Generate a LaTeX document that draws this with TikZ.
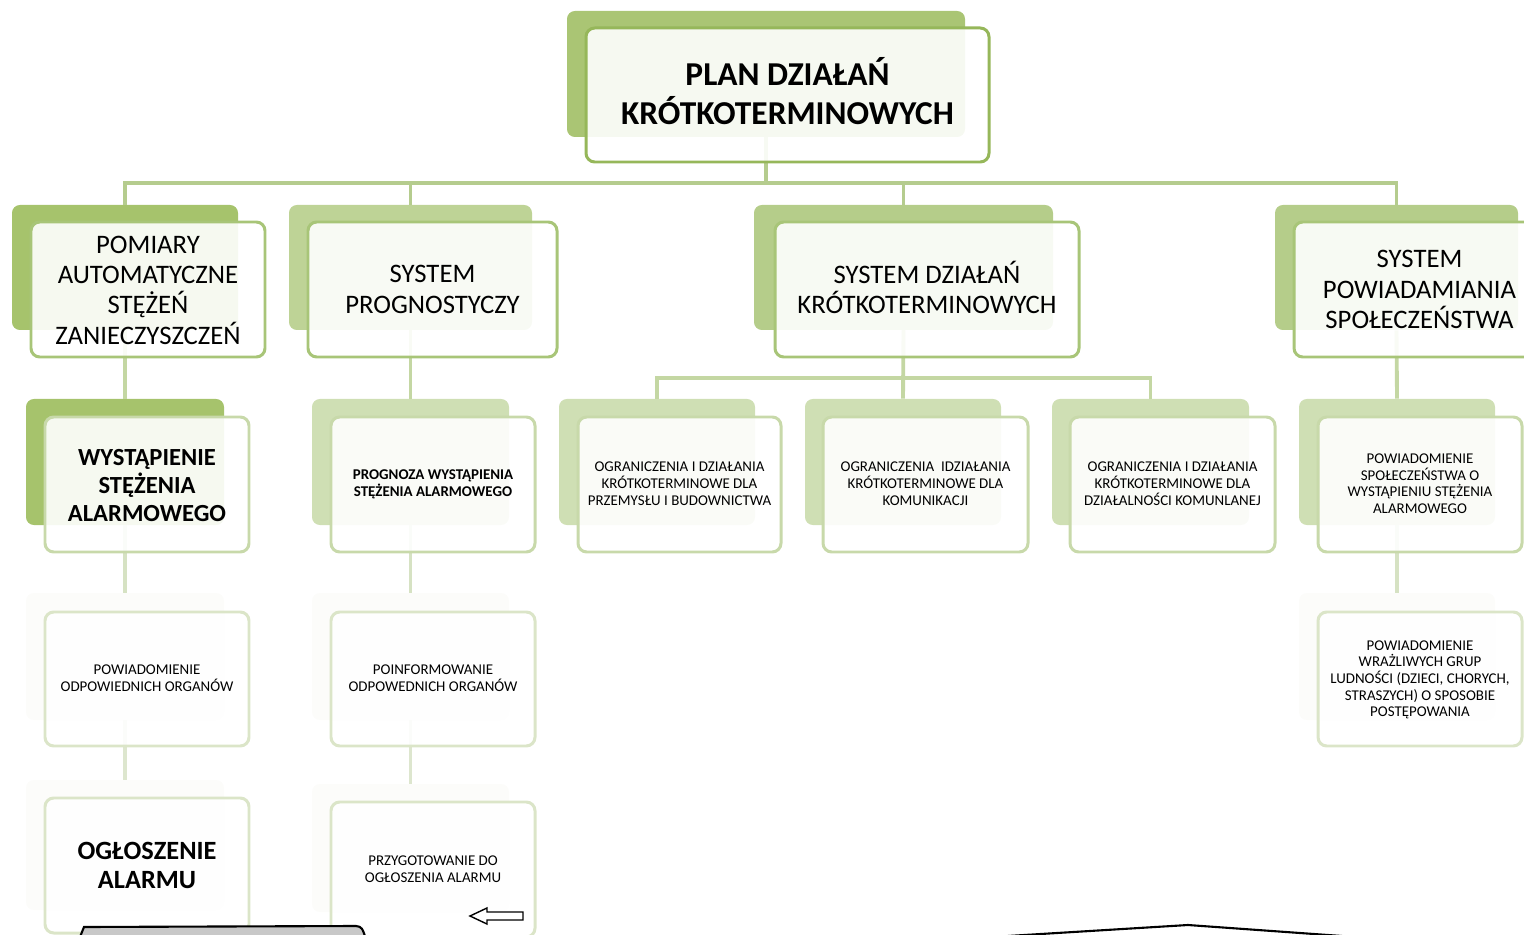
\documentclass[tikz,border=0pt]{standalone}
\usepackage{fontspec}
\setmainfont{Carlito}
\usetikzlibrary{fit}
\definecolor{topback}{RGB}{170,197,116}
\definecolor{topborder}{RGB}{150,183,90}
\definecolor{backA}{RGB}{166,195,108}
\definecolor{backB}{RGB}{190,211,150}
\definecolor{backC}{RGB}{181,205,138}
\definecolor{borderII}{RGB}{168,197,120}
\definecolor{backIII}{RGB}{207,223,180}
\definecolor{borderIII}{RGB}{200,217,170}
\definecolor{backIV}{RGB}{252,252,250}
\definecolor{borderIV}{RGB}{219,229,200}
\definecolor{connI}{RGB}{181,204,142}
\definecolor{connII}{RGB}{196,215,163}
\definecolor{connIII}{RGB}{214,226,195}
\definecolor{connIV}{RGB}{221,230,206}
\definecolor{shapegray}{RGB}{200,200,200}
\newcommand\boxtext[4]{\node[#2, align=center, inner sep=0pt, yshift=#3] (#1t) at (#1.center) {#4};}
\begin{document}
\begin{tikzpicture}[x=0.02cm,y=-0.02cm,
  backbox/.style={rounded corners=4.5pt, inner sep=0pt, draw=none},
  frontbox/.style={rounded corners=5pt, fill=white, fill opacity=0.9,
     line width=1.7pt, inner sep=0pt},
  conn/.style={line width=2.2pt},
  ftop/.style={font=\fontsize{19}{22}\selectfont\bfseries},
  fII/.style={font=\fontsize{15.2}{17.2}\selectfont},
  fIIIb/.style={font=\fontsize{14}{15.9}\selectfont\bfseries},
  fsmall/.style={font=\fontsize{8.5}{9.5}\selectfont},
  fsmallb/.style={font=\fontsize{8.5}{9.5}\selectfont\bfseries},
  fVb/.style={font=\fontsize{15}{17}\selectfont\bfseries}]
\useasboundingbox (0,0) rectangle (1524,935);
\clip (0,0) rectangle (1524,935);

% ---------- back rectangles ----------
\node[backbox, fill=topback, fit={(567,11) (965,137)}] (topb) {};
\node[backbox, fill=backA, fit={(12,205) (238,330)}] (a2b) {};
\node[backbox, fill=backB, fit={(289,205) (532,330)}] (b2b) {};
\node[backbox, fill=backC, fit={(754,205) (1053,330)}] (c2b) {};
\node[backbox, fill=backC, fit={(1275,205) (1518,330)}] (d2b) {};

\node[backbox, fill=backA, fit={(26,399) (224,525)}] (a3b) {};
\node[backbox, fill=backIII, fit={(312,399) (509,525)}] (b3b) {};
\node[backbox, fill=backIII, fit={(559,399) (755,525)}] (c3ab) {};
\node[backbox, fill=backIII, fit={(805,399) (1001,525)}] (c3bb) {};
\node[backbox, fill=backIII, fit={(1052,399) (1249,525)}] (c3cb) {};
\node[backbox, fill=backIII, fit={(1299,399) (1495,525)}] (d3b) {};

\node[backbox, fill=backIV, fit={(26,593) (224,720)}] (a4b) {};
\node[backbox, fill=backIV, fit={(312,593) (509,720)}] (b4b) {};
\node[backbox, fill=backIV, fit={(1299,593) (1495,720)}] (d4b) {};

\node[backbox, fill=backIV, fit={(26,780) (224,910)}] (a5b) {};
\node[backbox, fill=backIV, fit={(312,784) (509,912)}] (b5b) {};

% ---------- connectors ----------
\draw[conn, connI] (topb.south) -- (topb.south |- 0,183) -| (a2b.north);
\draw[conn, connI] (topb.south) -- (topb.south |- 0,183) -| (b2b.north);
\draw[conn, connI] (topb.south) -- (topb.south |- 0,183) -| (c2b.north);
\draw[conn, connI] (topb.south) -- (topb.south |- 0,183) -| (d2b.north);

\draw[conn, connII] (a2b.south) -- (a3b.north);
\draw[conn, connII] (b2b.south) -- (b3b.north);
\draw[conn, connII] (c2b.south) -- (c2b.south |- 0,378) -| (c3ab.north);
\draw[conn, connII] (c2b.south) -- (c3bb.north);
\draw[conn, connII] (c2b.south) -- (c2b.south |- 0,378) -| (c3cb.north);
\draw[conn, connII] (d2b.south) -- (d3b.north);

\draw[conn, connIII] (a3b.south) -- (a4b.north);
\draw[conn, connIII] (b3b.south) -- (b4b.north);
\draw[conn, connIII] (d3b.south) -- (d4b.north);

\draw[conn, connIV] (a4b.south) -- (a5b.north);
\draw[conn, connIV] (b4b.south) -- (b5b.north);

% ---------- front boxes ----------
\node[frontbox, draw=topborder, fit={(586,28) (989,162)}] (top) {};

\node[frontbox, draw=borderII, fit={(31,222) (265,357)}] (a2) {};
\node[frontbox, draw=borderII, fit={(308,222) (557,357)}] (b2) {};
\node[frontbox, draw=borderII, fit={(775,222) (1079,357)}] (c2) {};
\node[frontbox, draw=borderII, fit={(1294,222) (1545,357)}] (d2) {};

\node[frontbox, draw=borderIII, fit={(45,417) (249,552)}] (a3) {};
\node[frontbox, draw=borderIII, fit={(331,417) (535,552)}] (b3) {};
\node[frontbox, draw=borderIII, fit={(578,417) (781,552)}] (c3a) {};
\node[frontbox, draw=borderIII, fit={(823,417) (1028,552)}] (c3b) {};
\node[frontbox, draw=borderIII, fit={(1070,417) (1275,552)}] (c3c) {};
\node[frontbox, draw=borderIII, fit={(1318,417) (1522,552)}] (d3) {};

\node[frontbox, draw=borderIV, fit={(45,612) (249,746)}] (a4) {};
\node[frontbox, draw=borderIV, fit={(331,612) (535,746)}] (b4) {};
\node[frontbox, draw=borderIV, fit={(1318,612) (1522,746)}] (d4) {};

\node[frontbox, draw=borderIV, fit={(45,798) (249,933)}] (a5) {};
\node[frontbox, draw=borderIV, fit={(331,802) (535,937)}] (b5) {};

% ---------- texts ----------
\boxtext{top}{ftop}{2.3pt}{PLAN DZIAŁAŃ\\KRÓTKOTERMINOWYCH}
\boxtext{a2}{fII}{-0.4pt}{POMIARY\\AUTOMATYCZNE\\STĘŻEŃ\\ZANIECZYSZCZEŃ}
\boxtext{b2}{fII}{0pt}{SYSTEM\\PROGNOSTYCZY}
\boxtext{c2}{fII}{1pt}{SYSTEM DZIAŁAŃ\\KRÓTKOTERMINOWYCH}
\boxtext{d2}{fII}{0pt}{SYSTEM\\POWIADAMIANIA\\SPOŁECZEŃSTWA}
\boxtext{a3}{fIIIb}{-0.4pt}{WYSTĄPIENIE\\STĘŻENIA\\ALARMOWEGO}
\boxtext{b3}{fsmallb}{0pt}{PROGNOZA WYSTĄPIENIA\\STĘŻENIA ALARMOWEGO}
\boxtext{c3a}{fsmall}{0.5pt}{OGRANICZENIA I DZIAŁANIA\\KRÓTKOTERMINOWE DLA\\PRZEMYSŁU I BUDOWNICTWA}
\boxtext{c3b}{fsmall}{0.5pt}{OGRANICZENIA\ \ IDZIAŁANIA\\KRÓTKOTERMINOWE DLA\\KOMUNIKACJI}
\boxtext{c3c}{fsmall}{0.5pt}{OGRANICZENIA I DZIAŁANIA\\KRÓTKOTERMINOWE DLA\\DZIAŁALNOŚCI KOMUNLANEJ}
\boxtext{d3}{fsmall}{0.5pt}{POWIADOMIENIE\\SPOŁECZEŃSTWA O\\WYSTĄPIENIU STĘŻENIA\\ALARMOWEGO}
\boxtext{a4}{fsmall}{0.5pt}{POWIADOMIENIE\\ODPOWIEDNICH ORGANÓW}
\boxtext{b4}{fsmall}{0.5pt}{POINFORMOWANIE\\ODPOWEDNICH ORGANÓW}
\boxtext{d4}{fsmall}{-0.5pt}{POWIADOMIENIE\\WRAŻLIWYCH GRUP\\LUDNOŚCI (DZIECI, CHORYCH,\\STRASZYCH) O SPOSOBIE\\POSTĘPOWANIA}
\boxtext{a5}{fVb}{0pt}{OGŁOSZENIE\\ALARMU}
\boxtext{b5}{fsmall}{0pt}{PRZYGOTOWANIE DO\\OGŁOSZENIA ALARMU}

% ---------- other shapes ----------
\draw[line width=0.8pt, fill=white] (470,916) -- (487,908) -- (487,912) -- (523,912)
  -- (523,920) -- (487,920) -- (487,924) -- cycle;
\draw[line width=1.2pt, fill=shapegray] (78,942) -- (84,927) -- (356,926)
  .. controls (362,927) .. (367,942);
\draw[line width=1.2pt] (1008,936) -- (1188,925) -- (1342,936);
\end{tikzpicture}
\end{document}
